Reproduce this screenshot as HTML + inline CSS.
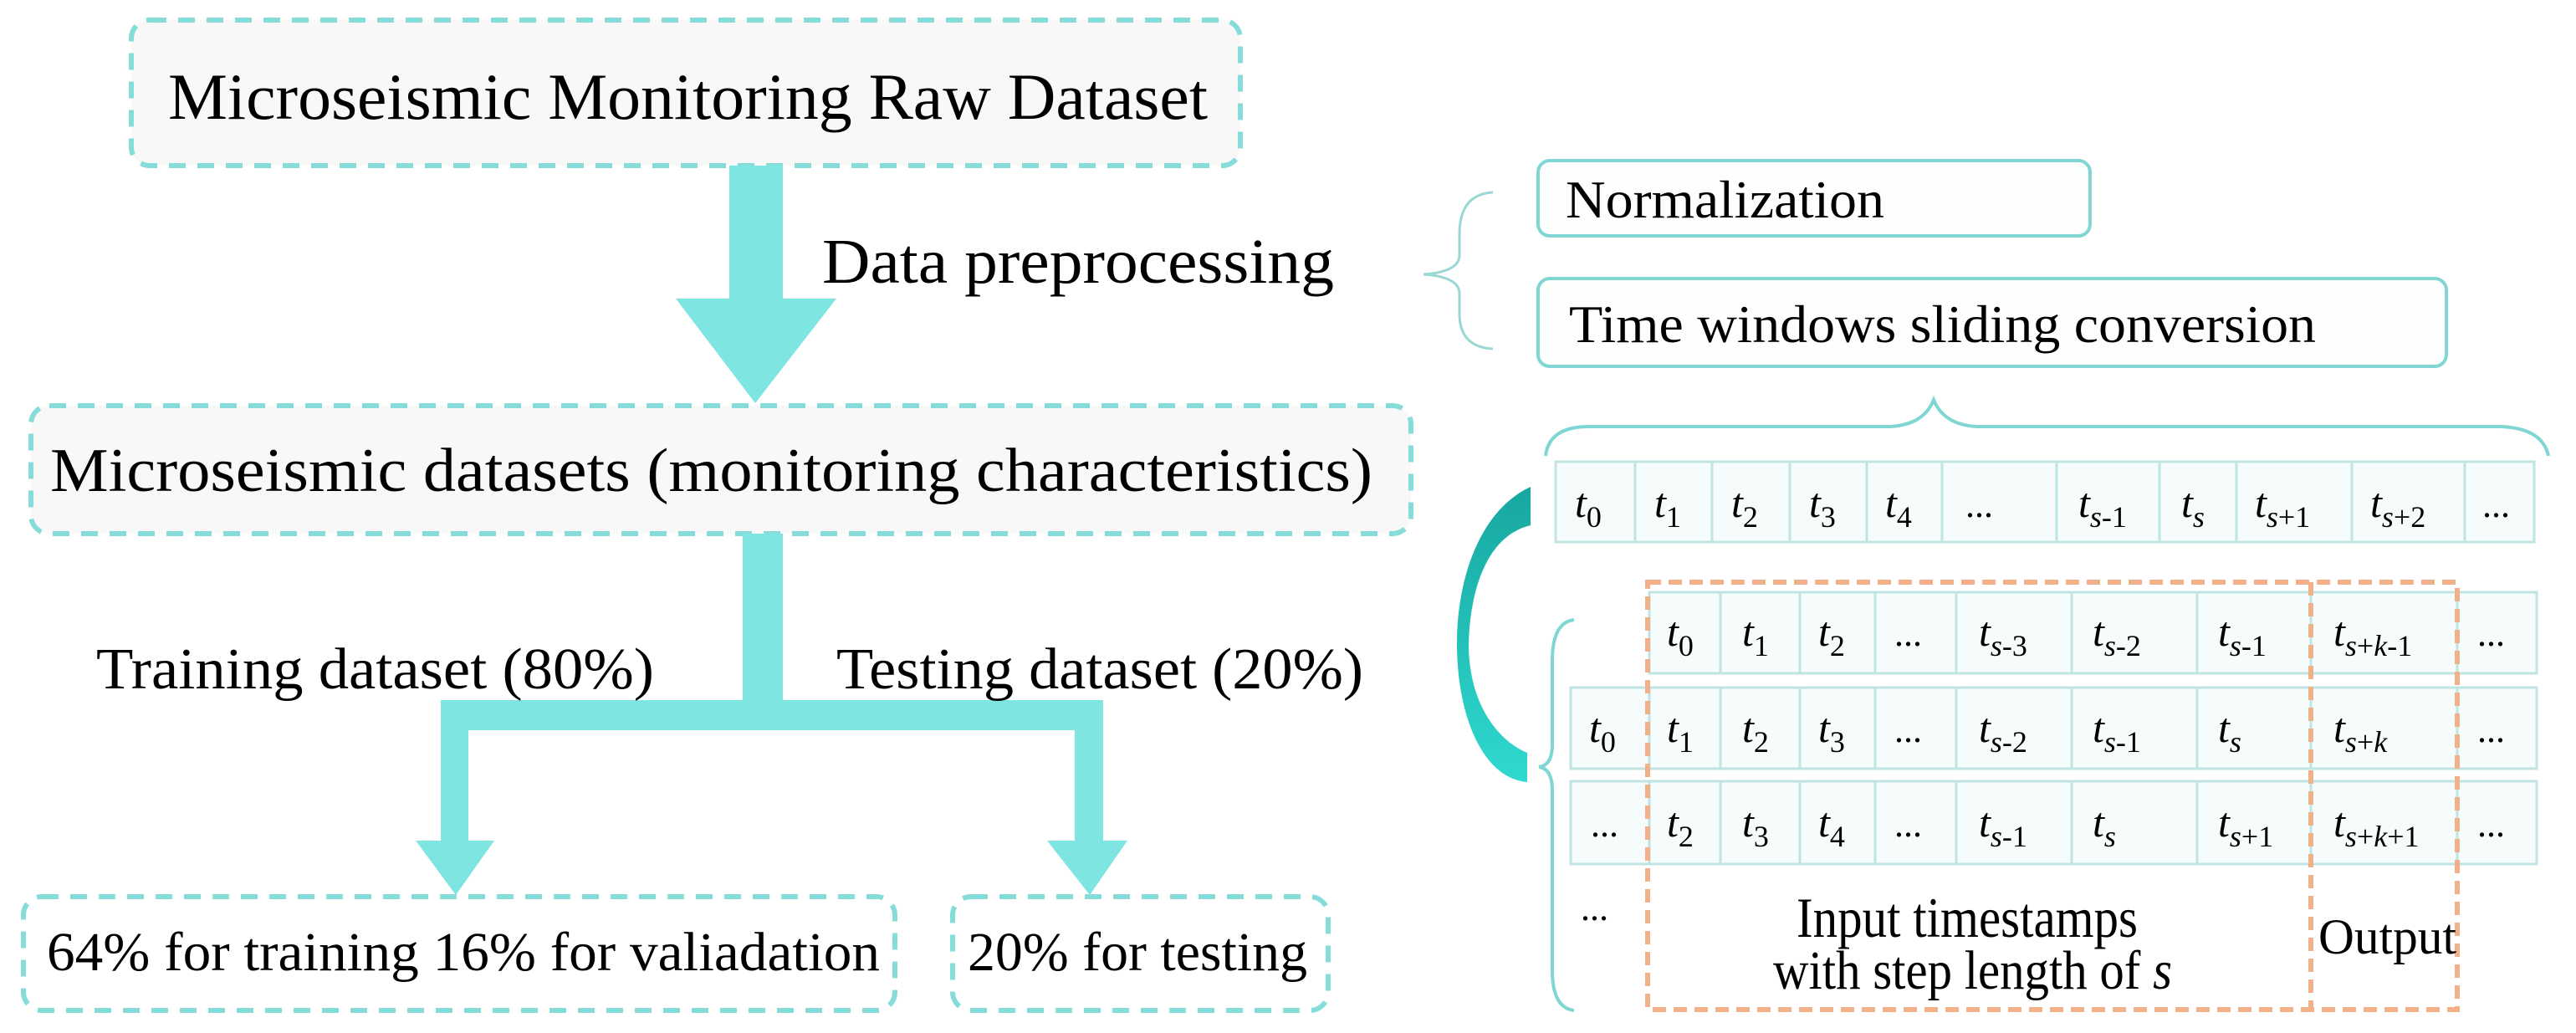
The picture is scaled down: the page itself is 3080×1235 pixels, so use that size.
<!DOCTYPE html>
<html><head><meta charset="utf-8"><style>
html,body{margin:0;padding:0;background:#fff;}
svg{display:block;}
text{font-family:"Liberation Serif",serif;fill:#000;}
</style></head><body>
<svg width="3080" height="1235" viewBox="0 0 3080 1235" xmlns="http://www.w3.org/2000/svg">
<defs>
<linearGradient id="cg" x1="0" y1="0" x2="0" y2="1">
<stop offset="0" stop-color="#17a7a0"/><stop offset="1" stop-color="#2fd9cf"/>
</linearGradient>
</defs>
<rect width="3080" height="1235" fill="#fff"/>

<!-- Left flow -->
<rect x="157" y="24" width="1326" height="174" rx="22" fill="#f8f8f8" stroke="#86dcd8" stroke-width="6" stroke-dasharray="20 14"/>
<text x="201" y="142" font-size="78" textLength="1243" lengthAdjust="spacingAndGlyphs">Microseismic Monitoring Raw Dataset</text>

<polygon points="872,198 936,198 936,357 1000,357 903,482 808,357 872,357" fill="#7ee5e1"/>
<text x="983" y="338" font-size="76" textLength="612" lengthAdjust="spacingAndGlyphs">Data preprocessing</text>

<rect x="37" y="485" width="1650" height="153" rx="22" fill="#f8f8f8" stroke="#86dcd8" stroke-width="6" stroke-dasharray="20 14"/>
<text x="60" y="587" font-size="74" textLength="1581" lengthAdjust="spacingAndGlyphs">Microseismic datasets (monitoring characteristics)</text>

<!-- split arrows -->
<path d="M888,638 L936,638 L936,837 L1319,837 L1319,1005 L1348,1005 L1303,1070 L1252,1005 L1285,1005 L1285,873 L560,873 L560,1005 L591,1005 L545,1070 L497,1005 L527,1005 L527,837 L888,837 Z" fill="#7ee5e1"/>
<text x="115" y="823" font-size="70" textLength="667" lengthAdjust="spacingAndGlyphs">Training dataset (80%)</text>
<text x="1000" y="823" font-size="70" textLength="630" lengthAdjust="spacingAndGlyphs">Testing dataset (20%)</text>

<rect x="28" y="1072" width="1042" height="136" rx="22" fill="#fff" stroke="#86dcd8" stroke-width="6" stroke-dasharray="20 14"/>
<text x="56" y="1160" font-size="66" textLength="996" lengthAdjust="spacingAndGlyphs">64% for training  16% for valiadation</text>
<rect x="1139" y="1072" width="449" height="136" rx="22" fill="#fff" stroke="#86dcd8" stroke-width="6" stroke-dasharray="20 14"/>
<text x="1157" y="1160" font-size="66" textLength="406" lengthAdjust="spacingAndGlyphs">20% for testing</text>

<!-- small brace -->
<path d="M1785,230 Q1745,232 1745,280 L1745,305 Q1745,325 1702,328 Q1745,331 1745,351 L1745,375 Q1745,415 1785,417" fill="none" stroke="#9ad8d4" stroke-width="3"/>

<rect x="1839" y="192" width="660" height="90" rx="14" fill="#fdfefe" stroke="#80d6d2" stroke-width="4"/>
<text x="1872" y="260" font-size="64" textLength="381" lengthAdjust="spacingAndGlyphs">Normalization</text>
<rect x="1839" y="333" width="1086" height="105" rx="14" fill="#fdfefe" stroke="#80d6d2" stroke-width="4"/>
<text x="1876" y="409" font-size="64" textLength="893" lengthAdjust="spacingAndGlyphs">Time windows sliding conversion</text>

<!-- big brace -->
<path d="M1848,545 Q1852,510 1900,510 L2260,510 Q2300,508 2312,478 Q2324,508 2364,510 L2990,510 Q3040,512 3047,545" fill="none" stroke="#7fd6d2" stroke-width="4"/>

<!-- curved arrow -->
<path d="M1830,582 L1830,628 C1780,640 1758,700 1756,770 C1756,840 1790,885 1826,900 L1826,935 C1770,930 1742,850 1742,770 C1742,690 1770,610 1830,582 Z" fill="url(#cg)"/>

<!-- right brace for rows -->
<path d="M1882,741 Q1856,744 1856,790 L1856,890 Q1856,915 1840,917 Q1856,919 1856,945 L1856,1160 Q1856,1205 1882,1208" fill="none" stroke="#7fd6d2" stroke-width="4"/>

<g fill="#f6fbfb" stroke="#bfe4e1" stroke-width="3">
<!-- row0 -->
<rect x="1860" y="552" width="95" height="96"/><rect x="1955" y="552" width="92" height="96"/><rect x="2047" y="552" width="93" height="96"/><rect x="2140" y="552" width="92" height="96"/><rect x="2232" y="552" width="90" height="96"/><rect x="2322" y="552" width="137" height="96"/><rect x="2459" y="552" width="123" height="96"/><rect x="2582" y="552" width="92" height="96"/><rect x="2674" y="552" width="138" height="96"/><rect x="2812" y="552" width="135" height="96"/><rect x="2947" y="552" width="83" height="96"/>
<!-- row1 -->
<rect x="1972" y="708" width="85" height="97"/><rect x="2057" y="708" width="95" height="97"/><rect x="2152" y="708" width="90" height="97"/><rect x="2242" y="708" width="97" height="97"/><rect x="2339" y="708" width="138" height="97"/><rect x="2477" y="708" width="150" height="97"/><rect x="2627" y="708" width="136" height="97"/><rect x="2763" y="708" width="175" height="97"/><rect x="2938" y="708" width="95" height="97"/>
<!-- row2 -->
<rect x="1878" y="822" width="94" height="97"/><rect x="1972" y="822" width="85" height="97"/><rect x="2057" y="822" width="95" height="97"/><rect x="2152" y="822" width="90" height="97"/><rect x="2242" y="822" width="97" height="97"/><rect x="2339" y="822" width="138" height="97"/><rect x="2477" y="822" width="150" height="97"/><rect x="2627" y="822" width="136" height="97"/><rect x="2763" y="822" width="175" height="97"/><rect x="2938" y="822" width="95" height="97"/>
<!-- row3 -->
<rect x="1878" y="934" width="94" height="99"/><rect x="1972" y="934" width="85" height="99"/><rect x="2057" y="934" width="95" height="99"/><rect x="2152" y="934" width="90" height="99"/><rect x="2242" y="934" width="97" height="99"/><rect x="2339" y="934" width="138" height="99"/><rect x="2477" y="934" width="150" height="99"/><rect x="2627" y="934" width="136" height="99"/><rect x="2763" y="934" width="175" height="99"/><rect x="2938" y="934" width="95" height="99"/>
</g>

<g font-size="50">
<!-- row0 texts baseline 620 -->
<text x="1883" y="618"><tspan font-style="italic">t</tspan><tspan font-size="36" dy="12">0</tspan></text>
<text x="1978" y="618"><tspan font-style="italic">t</tspan><tspan font-size="36" dy="12">1</tspan></text>
<text x="2070" y="618"><tspan font-style="italic">t</tspan><tspan font-size="36" dy="12">2</tspan></text>
<text x="2163" y="618"><tspan font-style="italic">t</tspan><tspan font-size="36" dy="12">3</tspan></text>
<text x="2254" y="618"><tspan font-style="italic">t</tspan><tspan font-size="36" dy="12">4</tspan></text>
<text x="2350" y="618" font-size="44">...</text>
<text x="2485" y="618"><tspan font-style="italic">t</tspan><tspan font-size="36" dy="12"><tspan font-style="italic">s</tspan>-1</tspan></text>
<text x="2608" y="618"><tspan font-style="italic">t</tspan><tspan font-size="36" dy="12" font-style="italic">s</tspan></text>
<text x="2696" y="618"><tspan font-style="italic">t</tspan><tspan font-size="36" dy="12"><tspan font-style="italic">s</tspan>+1</tspan></text>
<text x="2834" y="618"><tspan font-style="italic">t</tspan><tspan font-size="36" dy="12"><tspan font-style="italic">s</tspan>+2</tspan></text>
<text x="2968" y="618" font-size="44">...</text>

<!-- row1 baseline 775 -->
<text x="1993" y="772"><tspan font-style="italic">t</tspan><tspan font-size="36" dy="12">0</tspan></text>
<text x="2083" y="772"><tspan font-style="italic">t</tspan><tspan font-size="36" dy="12">1</tspan></text>
<text x="2174" y="772"><tspan font-style="italic">t</tspan><tspan font-size="36" dy="12">2</tspan></text>
<text x="2265" y="772" font-size="44">...</text>
<text x="2366" y="772"><tspan font-style="italic">t</tspan><tspan font-size="36" dy="12"><tspan font-style="italic">s</tspan>-3</tspan></text>
<text x="2502" y="772"><tspan font-style="italic">t</tspan><tspan font-size="36" dy="12"><tspan font-style="italic">s</tspan>-2</tspan></text>
<text x="2652" y="772"><tspan font-style="italic">t</tspan><tspan font-size="36" dy="12"><tspan font-style="italic">s</tspan>-1</tspan></text>
<text x="2790" y="772"><tspan font-style="italic">t</tspan><tspan font-size="36" dy="12"><tspan font-style="italic">s</tspan>+<tspan font-style="italic">k</tspan>-1</tspan></text>
<text x="2962" y="772" font-size="44">...</text>

<!-- row2 baseline 887 -->
<text x="1900" y="887"><tspan font-style="italic">t</tspan><tspan font-size="36" dy="12">0</tspan></text>
<text x="1993" y="887"><tspan font-style="italic">t</tspan><tspan font-size="36" dy="12">1</tspan></text>
<text x="2083" y="887"><tspan font-style="italic">t</tspan><tspan font-size="36" dy="12">2</tspan></text>
<text x="2174" y="887"><tspan font-style="italic">t</tspan><tspan font-size="36" dy="12">3</tspan></text>
<text x="2265" y="887" font-size="44">...</text>
<text x="2366" y="887"><tspan font-style="italic">t</tspan><tspan font-size="36" dy="12"><tspan font-style="italic">s</tspan>-2</tspan></text>
<text x="2502" y="887"><tspan font-style="italic">t</tspan><tspan font-size="36" dy="12"><tspan font-style="italic">s</tspan>-1</tspan></text>
<text x="2652" y="887"><tspan font-style="italic">t</tspan><tspan font-size="36" dy="12" font-style="italic">s</tspan></text>
<text x="2790" y="887"><tspan font-style="italic">t</tspan><tspan font-size="36" dy="12"><tspan font-style="italic">s</tspan>+<tspan font-style="italic">k</tspan></tspan></text>
<text x="2962" y="887" font-size="44">...</text>

<!-- row3 baseline 1000 -->
<text x="1902" y="1000" font-size="44">...</text>
<text x="1993" y="1000"><tspan font-style="italic">t</tspan><tspan font-size="36" dy="12">2</tspan></text>
<text x="2083" y="1000"><tspan font-style="italic">t</tspan><tspan font-size="36" dy="12">3</tspan></text>
<text x="2174" y="1000"><tspan font-style="italic">t</tspan><tspan font-size="36" dy="12">4</tspan></text>
<text x="2265" y="1000" font-size="44">...</text>
<text x="2366" y="1000"><tspan font-style="italic">t</tspan><tspan font-size="36" dy="12"><tspan font-style="italic">s</tspan>-1</tspan></text>
<text x="2502" y="1000"><tspan font-style="italic">t</tspan><tspan font-size="36" dy="12" font-style="italic">s</tspan></text>
<text x="2652" y="1000"><tspan font-style="italic">t</tspan><tspan font-size="36" dy="12"><tspan font-style="italic">s</tspan>+1</tspan></text>
<text x="2790" y="1000"><tspan font-style="italic">t</tspan><tspan font-size="36" dy="12"><tspan font-style="italic">s</tspan>+<tspan font-style="italic">k</tspan>+1</tspan></text>
<text x="2962" y="1000" font-size="44">...</text>

<text x="1890" y="1100" font-size="44">...</text>
</g>

<!-- orange dashed boxes -->
<rect x="1970" y="696" width="968" height="511" fill="none" stroke="#f2b089" stroke-width="6" stroke-dasharray="16 9"/>
<line x1="2763" y1="696" x2="2763" y2="1207" stroke="#f2b089" stroke-width="6" stroke-dasharray="16 9"/>

<text x="2148" y="1120" font-size="68" textLength="408" lengthAdjust="spacingAndGlyphs">Input timestamps</text>
<text x="2120" y="1182" font-size="66" textLength="477" lengthAdjust="spacingAndGlyphs">with step length of <tspan font-style="italic">s</tspan></text>
<text x="2772" y="1140" font-size="60" textLength="165" lengthAdjust="spacingAndGlyphs">Output</text>
</svg>
</body></html>
